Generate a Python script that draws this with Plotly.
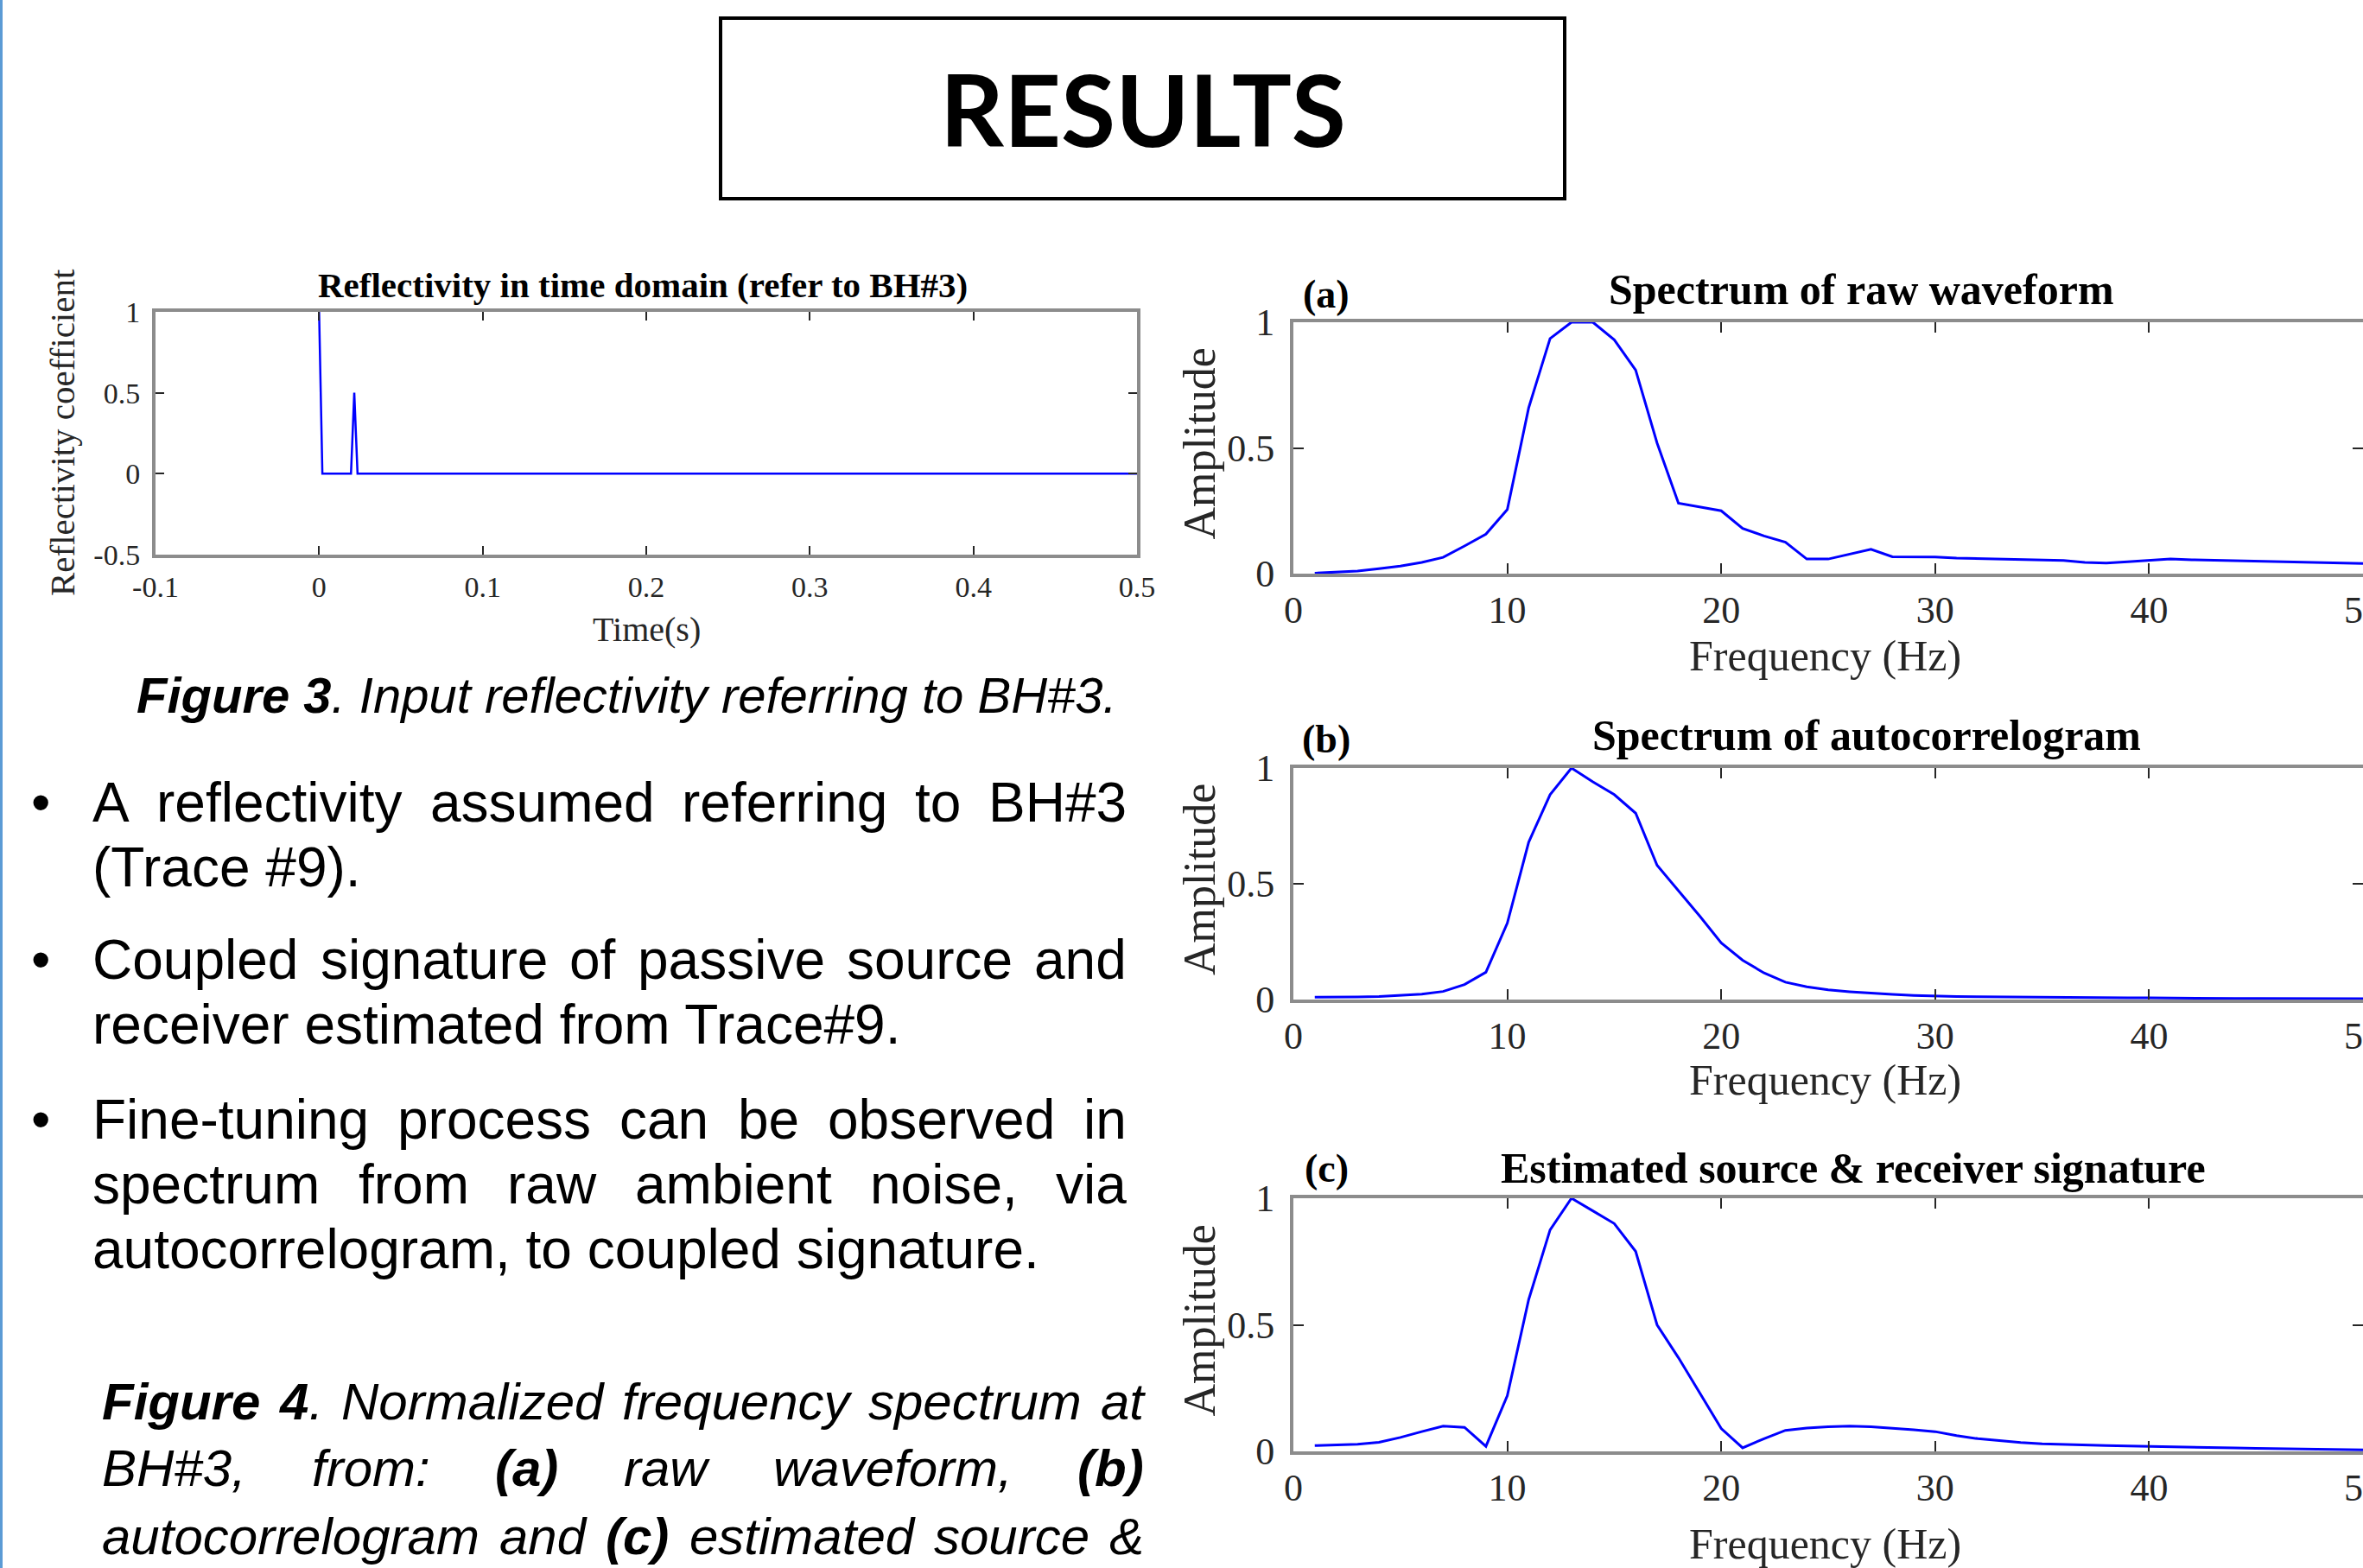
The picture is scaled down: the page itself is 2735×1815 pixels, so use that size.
import plotly.graph_objects as go

W, H = 2735, 1815

# ---------------- data ----------------
refl_time = [0.0, 0.002, 0.0195, 0.0215, 0.0235, 0.5]
refl_coef = [1.0, 0.0, 0.0, 0.5, 0.0, 0.0]

freq = list(range(1, 51))
amp_raw = [0.002, 0.005, 0.01, 0.02, 0.03, 0.045, 0.065, 0.11, 0.157, 0.255,
           0.66, 0.935, 1.0, 1.0, 0.93, 0.81, 0.52, 0.28, 0.265, 0.25,
           0.18, 0.15, 0.125, 0.058, 0.058, 0.078, 0.097, 0.067, 0.067, 0.066,
           0.062, 0.06, 0.058, 0.057, 0.055, 0.052, 0.045, 0.042, 0.047, 0.053,
           0.058, 0.055, 0.053, 0.052, 0.05, 0.048, 0.046, 0.044, 0.042, 0.04]
amp_auto = [0.01, 0.01, 0.011, 0.013, 0.017, 0.023, 0.035, 0.065, 0.118, 0.33,
            0.68, 0.885, 1.0, 0.94, 0.885, 0.805, 0.58, 0.47, 0.36, 0.245,
            0.17, 0.115, 0.075, 0.055, 0.042, 0.034, 0.027, 0.022, 0.018, 0.015,
            0.013, 0.012, 0.011, 0.01, 0.009, 0.009, 0.008, 0.008, 0.007, 0.007,
            0.006, 0.006, 0.006, 0.005, 0.005, 0.005, 0.005, 0.004, 0.004, 0.004]
amp_sig = [0.023, 0.025, 0.028, 0.036, 0.055, 0.078, 0.1, 0.095, 0.02, 0.22,
           0.6, 0.875, 1.0, 0.95, 0.9, 0.79, 0.5, 0.37, 0.23, 0.09,
           0.014, 0.05, 0.083, 0.092, 0.097, 0.1, 0.097, 0.092, 0.085, 0.078,
           0.062, 0.05, 0.042, 0.035, 0.03, 0.027, 0.025, 0.023, 0.021, 0.02,
           0.018, 0.017, 0.015, 0.014, 0.012, 0.011, 0.01, 0.008, 0.007, 0.006]

fig3_xticks = [-0.1, 0, 0.1, 0.2, 0.3, 0.4, 0.5]
fig3_xticktext = ["-0.1", "0", "0.1", "0.2", "0.3", "0.4", "0.5"]
fig3_yticks = [-0.5, 0, 0.5, 1]
fig3_yticktext = ["-0.5", "0", "0.5", "1"]
spec_xticks = [0, 10, 20, 30, 40, 50]
spec_xticktext = ["0", "10", "20", "30", "40", "50"]
spec_yticks = [0, 0.5, 1]
spec_yticktext = ["0", "0.5", "1"]

panel_tags = ["(a)", "(b)", "(c)"]
panel_titles = ["Spectrum of raw waveform", "Spectrum of autocorrelogram",
                "Estimated source &amp; receiver signature"]

bullet_lines = [
    ("A reflectivity assumed referring to BH#3", True, True),
    ("(Trace #9).", False, False),
    ("Coupled signature of passive source and", True, True),
    ("receiver estimated from Trace#9.", False, False),
    ("Fine-tuning process can be observed in", True, True),
    ("spectrum from raw ambient noise, via", True, False),
    ("autocorrelogram, to coupled signature.", False, False),
]
caption4_lines = [
    ["**Figure**", "**4**.", "Normalized", "frequency", "spectrum", "at"],
    ["BH#3,", "from:", "**(a)**", "raw", "waveform,", "**(b)**"],
    ["autocorrelogram", "and", "**(c)**", "estimated", "source", "&"],
]

# ---------------- helpers ----------------
SANS = "Liberation Sans"
SERIF = "Liberation Serif"

REG = {' ': 278, '!': 278, '#': 556, '&': 667, '(': 333, ')': 333, ',': 278, '-': 333,
       '.': 278, ':': 278,
       'A': 667, 'B': 667, 'C': 722, 'D': 722, 'E': 667, 'F': 611, 'G': 778, 'H': 722,
       'I': 278, 'J': 500, 'K': 667, 'L': 556, 'M': 833, 'N': 722, 'O': 778, 'P': 667,
       'Q': 778, 'R': 722, 'S': 667, 'T': 611, 'U': 722, 'V': 667, 'W': 944, 'X': 667,
       'Y': 667, 'Z': 611,
       'a': 556, 'b': 556, 'c': 500, 'd': 556, 'e': 556, 'f': 278, 'g': 556, 'h': 556,
       'i': 222, 'j': 222, 'k': 500, 'l': 222, 'm': 833, 'n': 556, 'o': 556, 'p': 556,
       'q': 556, 'r': 333, 's': 500, 't': 278, 'u': 556, 'v': 500, 'w': 722, 'x': 500,
       'y': 500, 'z': 500}
for d in "0123456789":
    REG[d] = 556
BOLD = dict(REG)
BOLD.update({'(': 333, ')': 333, 'a': 556, 'b': 611, 'c': 556, 'e': 556, 'g': 611,
             'i': 278, 'r': 389, 'u': 611, 'F': 611})


def parse(word):
    segs = []
    parts = word.split("**")
    for k, p in enumerate(parts):
        if p:
            segs.append((p, k % 2 == 1))
    return segs


def wwidth(word, size):
    w = 0
    for txt, b in parse(word):
        tab = BOLD if b else REG
        w += sum(tab.get(ch, 556) for ch in txt)
    return w * size / 1000.0


def markup(word, italic):
    out = ""
    for txt, b in parse(word):
        t = txt.replace("&", "&amp;")
        if italic:
            t = "<i>" + t + "</i>"
        if b:
            t = "<b>" + t + "</b>"
        out += t
    return out


annotations = []


def ann(x, y, text, size, family=SERIF, color="black", xa="center", ya="middle", angle=0):
    annotations.append(dict(x=x / W, y=1 - y / H, xref="paper", yref="paper", text=text,
                            showarrow=False, xanchor=xa, yanchor=ya, textangle=angle,
                            font=dict(size=size, family=family, color=color),
                            borderpad=0))


def text_line(words, left, right, y, size, justify, italic):
    if justify and len(words) > 1:
        widths = [wwidth(w, size) for w in words]
        gap = (right - left - sum(widths)) / (len(words) - 1)
        x = left
        for w, wd in zip(words, widths):
            ann(x, y, markup(w, italic), size, SANS, "black", xa="left")
            x += wd + gap
    else:
        ann(left, y, markup(" ".join(words), italic), size, SANS, "black", xa="left")


# ---------------- figure ----------------
fig = go.Figure()

BLUE = "#0000ff"
FRAME = "#8c8c8c"
TICKC = "#262626"


def add_axes(idx, xdom, ydom, xr, yr, xtv, xtt, ytv, ytt, tsize, xstand, ystand, ticklen):
    sx = "xaxis" if idx == 1 else "xaxis%d" % idx
    sy = "yaxis" if idx == 1 else "yaxis%d" % idx
    common = dict(showline=True, linecolor=FRAME, linewidth=4, mirror="ticks",
                  ticks="inside", ticklen=ticklen, tickwidth=2, tickcolor=TICKC,
                  showgrid=False, zeroline=False, fixedrange=True, automargin=False,
                  tickfont=dict(family=SERIF, size=tsize, color=TICKC))
    fig.update_layout({
        sx: dict(domain=xdom, range=xr, tickvals=xtv, ticktext=xtt,
                 anchor="y" if idx == 1 else "y%d" % idx,
                 ticklabelstandoff=xstand, ticklabeloverflow="allow", **common),
        sy: dict(domain=ydom, range=yr, tickvals=ytv, ticktext=ytt,
                 anchor="x" if idx == 1 else "x%d" % idx,
                 ticklabelstandoff=ystand, **common),
    })


def dom_x(a, b):
    return [a / W, min(b / W, 1.0)]


def dom_y(top, bottom):
    return [1 - bottom / H, 1 - top / H]


# Figure 3
fig.add_trace(go.Scatter(x=refl_time, y=refl_coef, mode="lines",
                         line=dict(color=BLUE, width=2.5), xaxis="x", yaxis="y",
                         showlegend=False, hoverinfo="skip"))
add_axes(1, dom_x(180, 1316), dom_y(361, 642), [-0.1, 0.5], [-0.5, 1],
         fig3_xticks, fig3_xticktext, fig3_yticks, fig3_yticktext, 34, 4, 7, 10)

# Spectra
spec_rows = [(373, 664), (889, 1157), (1387, 1680)]
spec_data = [amp_raw, amp_auto, amp_sig]
for k, ((top, bot), ys) in enumerate(zip(spec_rows, spec_data)):
    idx = k + 2
    fig.add_trace(go.Scatter(x=freq, y=ys, mode="lines",
                             line=dict(color=BLUE, width=3),
                             xaxis="x%d" % idx, yaxis="y%d" % idx,
                             showlegend=False, hoverinfo="skip"))
    add_axes(idx, dom_x(1497, 2735), dom_y(top, bot), [0, 50], [0, 1],
             spec_xticks, spec_xticktext, spec_yticks, spec_yticktext, 44, 0, 9, 12)

# ---------------- texts ----------------
# RESULTS heading
ann(1323, 125, "<b>RESULTS</b>", 115, "Lato", "black")

# Figure 3 texts
ann(744, 330, "<b>Reflectivity in time domain (refer to BH#3)</b>", 41, SERIF, "black")
ann(72, 501, "Reflectivity coefficient", 41, SERIF, "#262626", angle=-90)
ann(748, 728, "Time(s)", 40, SERIF, "#262626")

# Spectrum panel texts
tag_y = [340, 855, 1352]
title_y = [335, 851, 1352]
title_x = [2154, 2160, 2145]
xlab_y = [759, 1250, 1787]
for k, (top, bot) in enumerate(spec_rows):
    ann(1535, tag_y[k], "<b>%s</b>" % panel_tags[k], 46, SERIF, "black")
    ann(title_x[k], title_y[k], "<b>%s</b>" % panel_titles[k], 50, SERIF, "black")
    ann(1388, (top + bot) / 2 - 5, "Amplitude", 52, SERIF, "#262626", angle=-90)
    ann(2112, xlab_y[k], "Frequency (Hz)", 50, SERIF, "#262626")

# Figure 3 caption
ann(725, 805, "<b><i>Figure 3</i></b><i>. Input reflectivity referring to BH#3.</i>",
    58, SANS, "black")

# Bullets
bullet_y = [929, 1004, 1111, 1186, 1296, 1371, 1446]
for (line, just, bullet), y in zip(bullet_lines, bullet_y):
    text_line(line.split(" "), 106, 1303, y, 64, just, False)
    if bullet:
        ann(47, y, "•", 64, SANS, "black")

# Figure 4 caption
cap_y = [1622, 1699, 1778]
for words, y in zip(caption4_lines, cap_y):
    text_line(words, 117, 1323, y, 60, True, True)

shapes = [
    dict(type="line", xref="paper", yref="paper", x0=1.5 / W, x1=1.5 / W, y0=0, y1=1,
         line=dict(color="#5b9bd5", width=3)),
    dict(type="rect", xref="paper", yref="paper", x0=834 / W, x1=1811 / W,
         y0=1 - 230 / H, y1=1 - 21 / H, line=dict(color="black", width=4),
         fillcolor="rgba(0,0,0,0)"),
]

fig.update_layout(width=W, height=H, autosize=False,
                  margin=dict(l=0, r=0, t=0, b=0, pad=0, autoexpand=False),
                  paper_bgcolor="white", plot_bgcolor="white",
                  showlegend=False, annotations=annotations, shapes=shapes)

fig.write_html("out.html", config={"displayModeBar": False})
